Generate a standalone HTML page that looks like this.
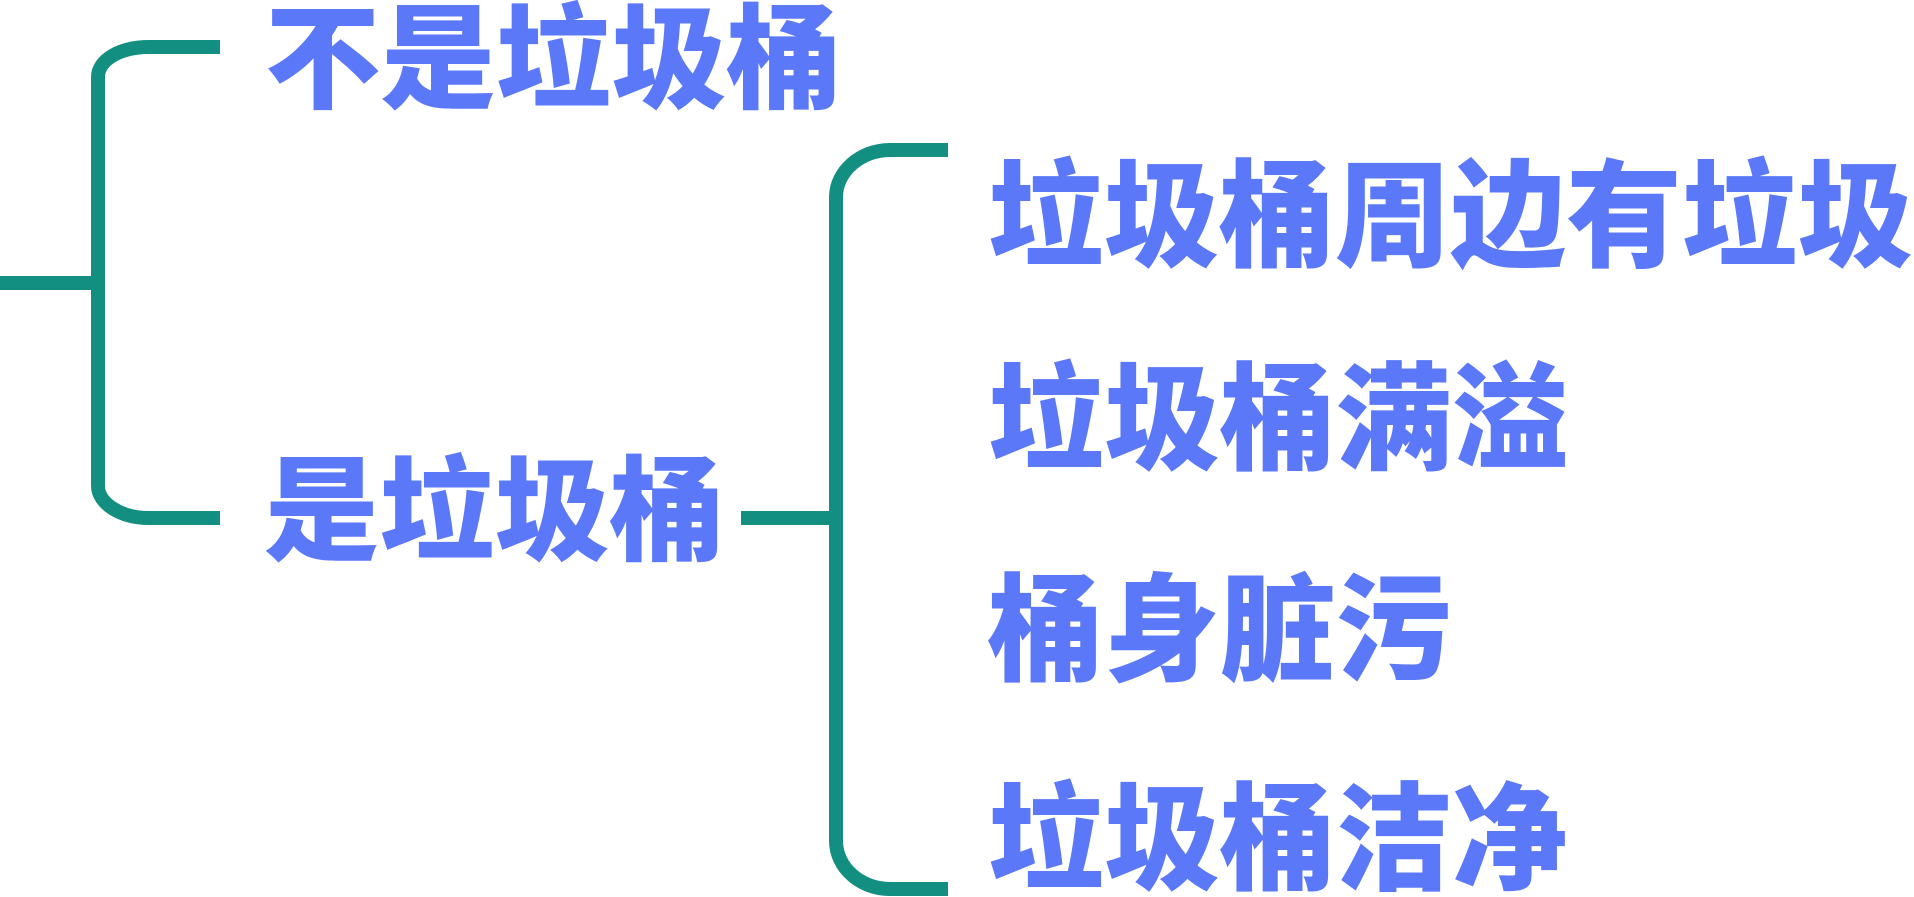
<!DOCTYPE html>
<html><head><meta charset="utf-8"><style>
html,body{margin:0;padding:0;background:#fff;width:1914px;height:897px;overflow:hidden}
svg text{font-family:"Liberation Sans","Noto Sans CJK SC",sans-serif;font-weight:900;fill:#5b78f8}
</style></head><body>
<svg width="1914" height="897" viewBox="0 0 1914 897">
<g fill="none" stroke="#128f80" stroke-width="14">
<path d="M0 283 H98"/>
<path d="M220 47 H149 C120 47 98 60 98 77 V486 C98 503 120 518 149 518 H220"/>
<path d="M741 518 H836"/>
<path d="M948 150 H890 C860 150 836 172 836 197 V841 C836 867 860 889 890 889 H948"/>
</g>
<g dominant-baseline="central">
<text x="265" y="61" font-size="114" textLength="577" lengthAdjust="spacingAndGlyphs">不是垃圾桶</text>
<text x="264" y="513" font-size="114" textLength="461" lengthAdjust="spacingAndGlyphs">是垃圾桶</text>
<text x="988" y="217" font-size="117" textLength="925" lengthAdjust="spacingAndGlyphs">垃圾桶周边有垃圾</text>
<text x="988" y="420" font-size="117" textLength="580" lengthAdjust="spacingAndGlyphs">垃圾桶满溢</text>
<text x="988" y="631" font-size="117" textLength="463" lengthAdjust="spacingAndGlyphs">桶身脏污</text>
<text x="988" y="840" font-size="117" textLength="580" lengthAdjust="spacingAndGlyphs">垃圾桶洁净</text>
</g>
</svg>
</body></html>
